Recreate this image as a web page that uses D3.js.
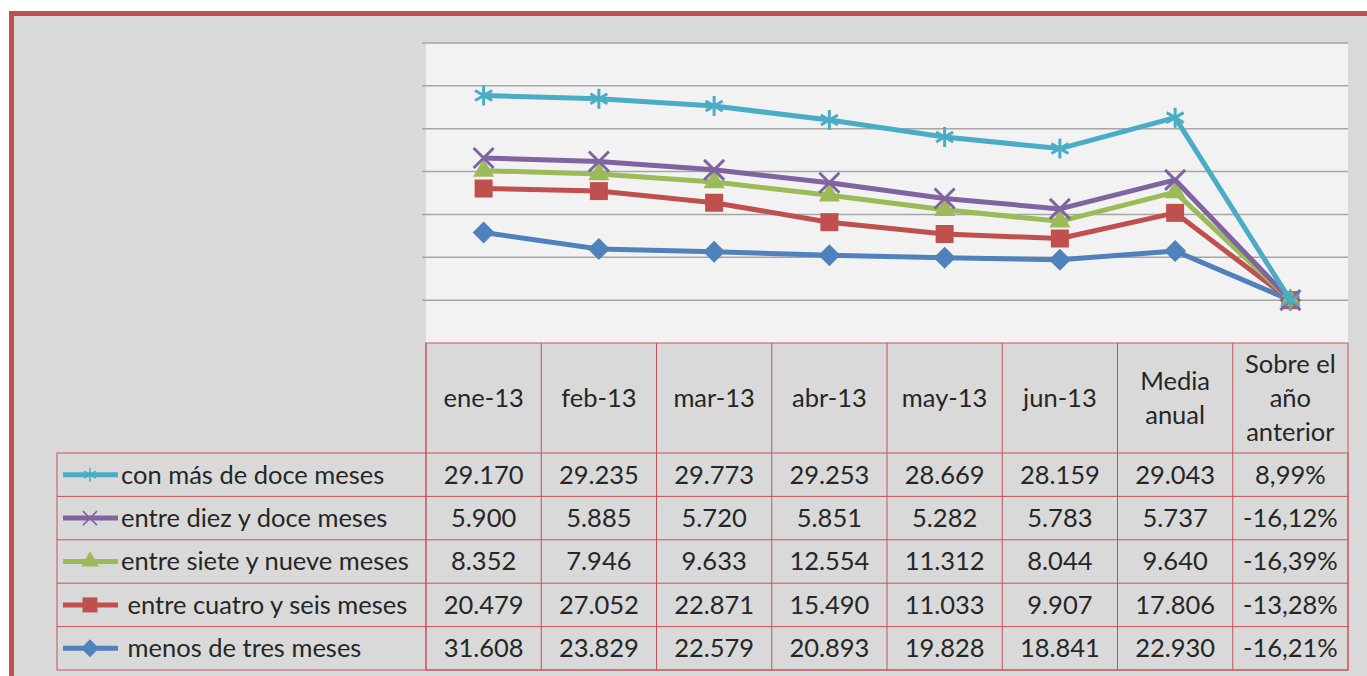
<!DOCTYPE html>
<html>
<head>
<meta charset="utf-8">
<script src="https://cdn.jsdelivr.net/npm/d3@7/dist/d3.min.js"></script>
<style>
  body { margin: 0; background: #fff; }
  text { font-family: Lato, "Open Sans", sans-serif; fill: #262626; }
</style>
</head>
<body>
<svg id="chart" width="1367" height="676"></svg>
<script>
// categories (columns of the data table)
var categories = ["ene-13", "feb-13", "mar-13", "abr-13", "may-13", "jun-13", "Media anual", "Sobre el año anterior"];
var headerLines = [["ene-13"], ["feb-13"], ["mar-13"], ["abr-13"], ["may-13"], ["jun-13"], ["Media", "anual"], ["Sobre el", "año", "anterior"]];

// series, in the order of the table rows (top to bottom)
var seriesNames = ["con más de doce meses", "entre diez y doce meses", "entre siete y nueve meses", " entre cuatro y seis meses", " menos de tres meses"];
var conMas   = [29170, 29235, 29773, 29253, 28669, 28159, 29043, 0.0899];
var diez     = [5900, 5885, 5720, 5851, 5282, 5783, 5737, -0.1612];
var siete    = [8352, 7946, 9633, 12554, 11312, 8044, 9640, -0.1639];
var cuatro   = [20479, 27052, 22871, 15490, 11033, 9907, 17806, -0.1328];
var menos    = [31608, 23829, 22579, 20893, 19828, 18841, 22930, -0.1621];
var seriesValues = [conMas, diez, siete, cuatro, menos];
var gridTicks = [0, 20000, 40000, 60000, 80000, 100000, 120000];

var colors = ["#4bacc6", "#8064a2", "#9bbb59", "#c0504d", "#4f81bd"];
var markers = ["star", "cross", "triangle", "square", "diamond"];

var svg = d3.select("#chart");

var plot = { left: 426, right: 1348, top: 43, bottom: 343 };
var tableLeft = 57, rowTop = 453, rowBottom = 670;

var x = d3.scaleBand().domain(categories).range([plot.left, plot.right]);
var y = d3.scaleLinear().domain([-20000, 120000]).range([plot.bottom, plot.top]);
var rowY = d3.scaleBand().domain(seriesNames).range([rowTop, rowBottom]);

var loc = d3.formatLocale({ decimal: ",", thousands: ".", grouping: [3], currency: ["", "€"], minus: "-" });
var fmtNum = loc.format(",d"), fmtPct = loc.format(".2%");

// frame
svg.append("rect")
  .attr("x", 11.5).attr("y", 13.5)
  .attr("width", 1400).attr("height", 700)
  .attr("fill", "#d9d9d9")
  .attr("stroke", "#c0504d").attr("stroke-width", 5);

// plot area
svg.append("rect")
  .attr("x", plot.left).attr("y", plot.top)
  .attr("width", plot.right - plot.left).attr("height", plot.bottom - plot.top)
  .attr("fill", "#f2f2f2");

svg.append("g").selectAll("line")
  .data(gridTicks)
  .join("line")
  .attr("x1", plot.left - 4).attr("x2", plot.right)
  .attr("y1", function(d) { return y(d); }).attr("y2", function(d) { return y(d); })
  .attr("stroke", "#a6a6a6").attr("stroke-width", 1.5);

// stacked lines
var rows = categories.map(function(c, i) {
  var r = { cat: c };
  seriesNames.forEach(function(s, j) { r[s] = seriesValues[j][i]; });
  return r;
});
var stackOrder = seriesNames.slice().reverse();
var stacked = d3.stack().keys(stackOrder)(rows);

var line = d3.line()
  .x(function(d) { return x(d.data.cat) + x.bandwidth() / 2; })
  .y(function(d) { return y(d[1]); });

function drawMarker(g, type, color, size, sw) {
  var s = size / 2;
  if (type === "star") {
    g.append("path")
      .attr("d", "M0," + (-s) + "V" + s + "M" + (-s * 0.85) + "," + (-s * 0.5) + "L" + (s * 0.85) + "," + (s * 0.5) +
        "M" + (-s * 0.85) + "," + (s * 0.5) + "L" + (s * 0.85) + "," + (-s * 0.5))
      .attr("stroke", color).attr("stroke-width", sw).attr("fill", "none");
  } else if (type === "cross") {
    g.append("path")
      .attr("d", "M" + (-s) + "," + (-s) + "L" + s + "," + s + "M" + (-s) + "," + s + "L" + s + "," + (-s))
      .attr("stroke", color).attr("stroke-width", sw).attr("fill", "none");
  } else if (type === "diamond") {
    g.append("path")
      .attr("d", "M0," + (-s) + "L" + s + ",0L0," + s + "L" + (-s) + ",0Z")
      .attr("fill", color);
  } else {
    var sym = { triangle: d3.symbolTriangle, square: d3.symbolSquare }[type];
    var area = type === "square" ? size * size : size * size * 0.6;
    g.append("path").attr("d", d3.symbol(sym, area)()).attr("fill", color);
  }
}

stacked.forEach(function(layer) {
  var j = seriesNames.indexOf(layer.key);
  var g = svg.append("g");
  g.append("path")
    .attr("d", line(layer))
    .attr("fill", "none")
    .attr("stroke", colors[j]).attr("stroke-width", 5)
    .attr("stroke-linejoin", "round");
  layer.forEach(function(d) {
    var m = g.append("g")
      .attr("transform", "translate(" + (x(d.data.cat) + x.bandwidth() / 2) + "," + y(d[1]) + ")");
    var big = markers[j] === "star" || markers[j] === "cross";
    drawMarker(m, markers[j], colors[j], big ? 20 : (markers[j] === "diamond" ? 22 : 18), 3);
  });
});

// data table
var table = svg.append("g").attr("stroke", "#c8505a").attr("stroke-width", 1).attr("fill", "none");
table.append("rect").attr("x", plot.left).attr("y", plot.bottom)
  .attr("width", plot.right - plot.left).attr("height", rowBottom - plot.bottom);
table.append("rect").attr("x", tableLeft).attr("y", rowTop)
  .attr("width", plot.right - tableLeft).attr("height", rowBottom - rowTop);
table.selectAll("line.v")
  .data(categories)
  .join("line")
  .attr("x1", function(d) { return x(d); }).attr("x2", function(d) { return x(d); })
  .attr("y1", plot.bottom).attr("y2", rowBottom);
table.selectAll("line.h")
  .data(seriesNames.slice(1))
  .join("line")
  .attr("x1", tableLeft).attr("x2", plot.right)
  .attr("y1", function(d) { return rowY(d); }).attr("y2", function(d) { return rowY(d); });

var fs = 25.5;
// header
categories.forEach(function(c, i) {
  var lines = headerLines[i];
  var cx = x(c) + x.bandwidth() / 2, cy = (plot.bottom + rowTop) / 2;
  var t = svg.append("text").attr("text-anchor", "middle").attr("font-size", fs);
  lines.forEach(function(l, k) {
    t.append("tspan").attr("x", cx)
      .attr("y", cy + (k - (lines.length - 1) / 2) * 34)
      .attr("dy", "0.35em").text(l);
  });
});

// rows
seriesNames.forEach(function(s, j) {
  var cy = rowY(s) + rowY.bandwidth() / 2;
  var key = svg.append("g");
  key.append("line").attr("x1", 63).attr("x2", 118).attr("y1", cy).attr("y2", cy)
    .attr("stroke", colors[j]).attr("stroke-width", 5);
  var m = key.append("g").attr("transform", "translate(90," + cy + ")");
  drawMarker(m, markers[j], colors[j], markers[j] === "star" || markers[j] === "cross" ? 14 : (markers[j] === "diamond" ? 18 : 15), 1.5);
  svg.append("text").attr("x", 121).attr("y", cy).attr("dy", "0.35em")
    .attr("font-size", fs).style("white-space", "pre").text(s);
  seriesValues[j].forEach(function(v, i) {
    svg.append("text")
      .attr("x", x(categories[i]) + x.bandwidth() / 2).attr("y", cy).attr("dy", "0.35em")
      .attr("text-anchor", "middle").attr("font-size", fs)
      .text(i === categories.length - 1 ? fmtPct(v) : fmtNum(v));
  });
});
</script>
</body>
</html>
